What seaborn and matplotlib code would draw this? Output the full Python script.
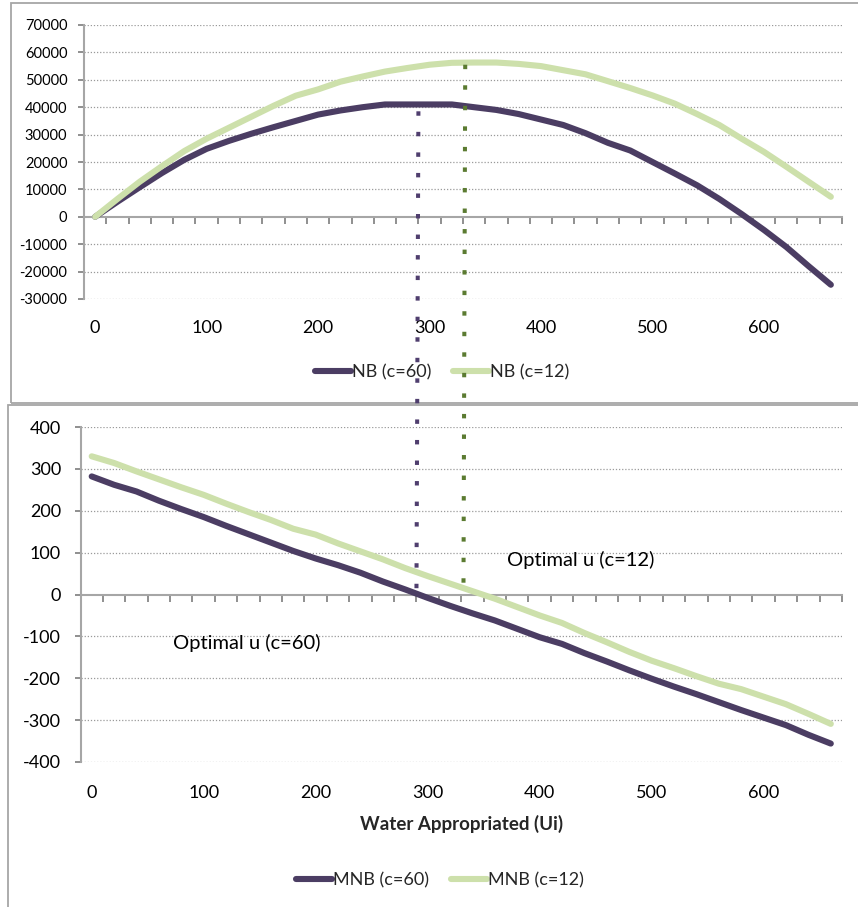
import numpy as np
import pandas as pd
import matplotlib
matplotlib.use("Agg")
import matplotlib.pyplot as plt
import seaborn as sns
from matplotlib.patches import Rectangle, ConnectionPatch

# ---------------- data ----------------
water_u = list(range(0, 661, 20))

nb_c60 = [0, 5500, 10800, 16000, 20800, 24800, 27700, 30300, 32700, 35000,
          37300, 38800, 40000, 41000, 41000, 41000, 41000, 40000, 39000, 37500,
          35500, 33500, 30500, 27000, 24200, 20000, 15800, 11500, 6500, 1000,
          -4800, -11000, -18000, -24800]
nb_c12 = [0, 6500, 12800, 18500, 24000, 28500, 32500, 36500, 40500, 44200,
          46500, 49300, 51200, 53000, 54300, 55500, 56200, 56300, 56300, 55800,
          55000, 53500, 52000, 49500, 47000, 44300, 41300, 37500, 33500, 28500,
          23700, 18300, 12800, 7300]
mnb_c60 = [282, 262, 246, 224, 204, 185, 164, 144, 124, 104,
           86, 70, 52, 31, 12, -8, -27, -45, -62, -82,
           -102, -118, -140, -160, -181, -201, -220, -238, -257, -276,
           -294, -312, -335, -356]
mnb_c12 = [330, 314, 294, 275, 256, 238, 217, 197, 178, 157,
           143, 122, 103, 84, 63, 44, 26, 8, -10, -30,
           -50, -68, -92, -114, -137, -158, -176, -195, -213, -226,
           -244, -262, -285, -309]

top_labels = ["NB (c=60)", "NB (c=12)"]
bottom_labels = ["MNB (c=60)", "MNB (c=12)"]
x_tick_values = [0, 100, 200, 300, 400, 500, 600]
top_y_ticks = [-30000, -20000, -10000, 0, 10000, 20000, 30000, 40000, 50000, 60000, 70000]
bottom_y_ticks = [-400, -300, -200, -100, 0, 100, 200, 300, 400]

optimal_u = [290, 332]            # c=60, c=12
optimal_top_start = [38500, 55500]
optimal_bottom_end = [8, 25]
optimal_text = ["Optimal u (c=60)", "Optimal u (c=12)"]
optimal_text_pos = [(73, -116), (371, 82)]
x_title = "Water Appropriated (Ui)"

# ---------------- style ----------------
sns.set_theme(style="white")
plt.rcParams["font.family"] = ["Lato", "DejaVu Sans"]
plt.rcParams["xtick.bottom"] = True
plt.rcParams["ytick.left"] = True

PURPLE = "#4b3d63"
GREEN = "#cde0ab"
DOT_PURPLE = "#4f3e6e"
DOT_GREEN = "#5b7b31"
GRAY = "#a6a6a6"
TICK = "#8f8f8f"

W, H = 858, 907
fig = plt.figure(figsize=(W / 100, H / 100), dpi=100)
fig.patch.set_facecolor("white")

# panel frames
fig.add_artist(Rectangle((11 / W, 1 - 403 / H), (880 - 11) / W, 400 / H,
                         transform=fig.transFigure, fill=False,
                         edgecolor=GRAY, linewidth=1.3, zorder=0))
fig.add_artist(Rectangle((8 / W, 1 - 930 / H), (880 - 8) / W, (930 - 405) / H,
                         transform=fig.transFigure, fill=False,
                         edgecolor=GRAY, linewidth=1.3, zorder=0))

ax1 = fig.add_axes([84 / W, 1 - 299 / H, (842 - 84) / W, (299 - 25) / H])
ax2 = fig.add_axes([80.5 / W, 1 - 762 / H, (842 - 80.5) / W, (762 - 427) / H])

df_top = pd.DataFrame({"u": water_u, top_labels[0]: nb_c60, top_labels[1]: nb_c12})
df_bot = pd.DataFrame({"u": water_u, bottom_labels[0]: mnb_c60, bottom_labels[1]: mnb_c12})

line_kw = dict(linewidth=4.4, solid_capstyle="round", solid_joinstyle="round", zorder=3)
for ax, df, labels in [(ax1, df_top, top_labels), (ax2, df_bot, bottom_labels)]:
    for lab, col in zip(labels, [PURPLE, GREEN]):
        sns.lineplot(data=df, x="u", y=lab, ax=ax, color=col, label=lab, **line_kw)

def style_axis(ax, yticks, ylabsize, xpad, ypad):
    ax.set_facecolor("white")
    ax.set_xlim(-10, 670)
    ax.set_ylim(yticks[0], yticks[-1])
    ax.set_yticks(yticks)
    ax.set_yticklabels([str(v) for v in yticks])
    ax.set_xticks(x_tick_values)
    ax.set_xticklabels([str(v) for v in x_tick_values])
    ax.set_xticks(np.arange(-10, 671, 20), minor=True)
    ax.set_xlabel("")
    ax.set_ylabel("")
    ax.set_axisbelow(True)
    for s in ["top", "right"]:
        ax.spines[s].set_visible(False)
    ax.spines["left"].set_color(GRAY)
    ax.spines["left"].set_linewidth(1.5)
    ax.spines["bottom"].set_color(GRAY)
    ax.spines["bottom"].set_linewidth(1.5)
    ax.spines["bottom"].set_position(("data", 0))
    ax.tick_params(axis="x", which="major", length=0, pad=xpad, labelsize=13, labelcolor="black")
    ax.tick_params(axis="x", which="minor", length=5, width=1.4, color=TICK, direction="out",
                   bottom=True, top=False)
    ax.tick_params(axis="y", which="major", length=4, width=1.4, color=TICK, direction="out",
                   left=True, pad=ypad, labelsize=ylabsize, labelcolor="black")
    for v in yticks:
        if v != 0:
            ax.axhline(v, color="#9a9a9a", linewidth=0.9, linestyle=(0, (1, 1.5)), zorder=0.5)

style_axis(ax1, top_y_ticks, 10.5, 74, 8)
style_axis(ax2, bottom_y_ticks, 13, 137, 10)

# legends
leg1 = ax1.legend(loc="center", bbox_to_anchor=(442 / W, 1 - 372 / H), bbox_transform=fig.transFigure,
                  ncol=2, frameon=False, fontsize=13, handlelength=2.0, handletextpad=0.05,
                  columnspacing=1.2)
leg2 = ax2.legend(loc="center", bbox_to_anchor=(440 / W, 1 - 880 / H), bbox_transform=fig.transFigure,
                  ncol=2, frameon=False, fontsize=13, handlelength=2.0, handletextpad=0.05,
                  columnspacing=1.2)
for leg in (leg1, leg2):
    for h in leg.get_lines():
        h.set_linewidth(4.4)
        h.set_solid_capstyle("round")

# axis title
ax2.set_xlabel(x_title, fontsize=13.5, fontweight="bold")
ax2.xaxis.set_label_coords(0.5, (762 - 815) / 335)

# optimal-u texts
for txt, (tx, ty) in zip(optimal_text, optimal_text_pos):
    ax2.text(tx, ty, txt, fontsize=14.5, ha="left", va="center", color="black")

# dotted connecting lines across both panels
for u0, ys, ye, col in zip(optimal_u, optimal_top_start, optimal_bottom_end, [DOT_PURPLE, DOT_GREEN]):
    con = ConnectionPatch(xyA=(u0, ys), coordsA=ax1.transData,
                          xyB=(u0, ye), coordsB=ax2.transData,
                          color=col, linewidth=2.9, linestyle=(0, (1.1, 4.0)),
                          capstyle="butt", zorder=10)
    fig.add_artist(con)

fig.savefig("out.png", dpi=100, facecolor="white")
